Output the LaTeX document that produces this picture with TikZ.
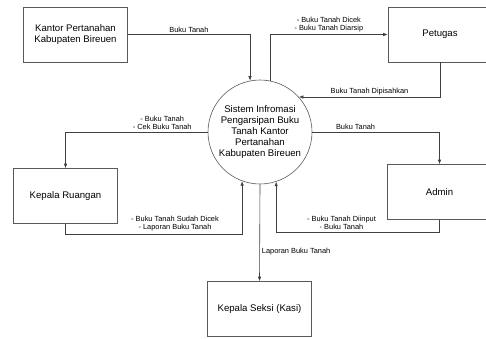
\documentclass[tikz,border=0pt]{standalone}
\usepackage{fontspec}
\setmainfont{Liberation Sans}
\usetikzlibrary{arrows.meta}

\begin{document}
\begin{tikzpicture}[x=1pt,y=-1pt,
	entitas/.style={draw=black!65, line width=0.6pt, minimum width=104pt, minimum height=55pt, align=center, font=\fontsize{9.6}{11}\selectfont},
	proses/.style={draw=black!65, line width=0.6pt, circle, minimum size=104pt, inner sep=0pt, align=center, font=\fontsize{9.6}{11}\selectfont},
	alir/.style={draw=black!75, line width=0.6pt, -{Latex[length=4.5pt,width=3.5pt]}},
	ket/.style={font=\fontsize{7.4}{8.3}\selectfont, align=center, inner sep=2pt}]
				   
				   \useasboundingbox (0,0) rectangle (486,338);
				   
				   \node[proses] (sistem) at (260,132) {Sistem Infromasi\\Pengarsipan Buku\\Tanah Kantor\\Pertanahan\\Kabupaten Bireuen};
				   %
				   \node[entitas] (kantor) at (75.5,34.5) {Kantor Pertanahan\\Kabupaten Bireuen};
				   \node[entitas] (petugas) at (440,34.5) {Petugas};
				   \node[entitas] (admin) at (439.5,192) {Admin};
				   \node[entitas] (ruangan) at (65.5,196) {Kepala Ruangan};
				   \node[entitas] (kasi) at (259.5,309) {Kepala Seksi (Kasi)};
				   %
				   \draw[alir] (kantor.east) -| node[ket, above, pos=0.25] {Buku Tanah} (sistem.101);
				   \draw[alir] (sistem.79) |- node[ket, above, pos=0.75] {- Buku Tanah Dicek\\- Buku Tanah Diarsip} (petugas.west);
				   \draw[alir] (petugas.south) |- node[ket, above, pos=0.75] {Buku Tanah Dipisahkan} (sistem.42);
				   %
				   \draw[alir] (sistem.east) -| node[ket, above, pos=0.17] {Buku Tanah} (admin.north);
				   \draw[alir] (admin.south) -- ++(0,12) -| node[ket, above, pos=0.3] {- Buku Tanah Diinput\\- Buku Tanah} (sistem.-72);
				   %
				   \draw[alir] (sistem.south) -- node[ket, right, pos=0.69] {Laporan Buku Tanah} (kasi.north);
				   %
				   \draw[alir] (sistem.west) -| node[ket, above, pos=0.16] {- Buku Tanah\\- Cek Buku Tanah} (ruangan.north);
				   \draw[alir] (ruangan.south) -- ++(0,10) -| node[ket, above, pos=0.31] {- Buku Tanah Sudah Dicek\\- Laporan Buku Tanah} (sistem.-110);
				   
\end{tikzpicture}
\end{document}
